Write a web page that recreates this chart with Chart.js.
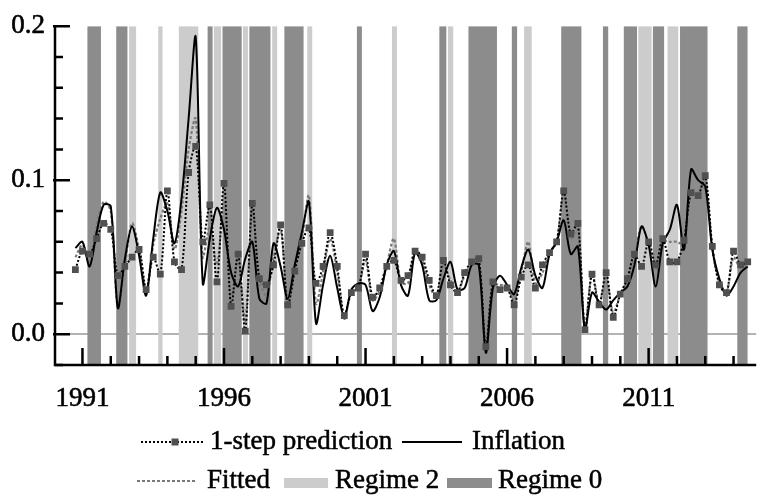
<!DOCTYPE html>
<html><head><meta charset="utf-8">
<script src="https://cdn.jsdelivr.net/npm/chart.js@4/dist/chart.umd.min.js"></script>
<style>
html,body{margin:0;padding:0;background:#fff;}
#wrap{position:relative;width:761px;height:502px;overflow:hidden;font-family:"Liberation Serif","LiberationSerif","Times New Roman",Times,"DejaVu Serif","Noto Serif",serif;}
#c{position:absolute;left:0;top:0;}
.lg{position:absolute;font-size:27px;line-height:27px;color:#000;white-space:nowrap;-webkit-text-stroke:0.5px #000;}
svg.s{position:absolute;overflow:visible;}
</style></head><body>
<div id="wrap">
<canvas id="c" width="761" height="502"></canvas>
<svg class="s" style="left:0;top:0" width="761" height="502">
  <line x1="141" y1="442" x2="203" y2="442" stroke="#000" stroke-width="2" stroke-dasharray="2,2"/>
  <rect x="171.5" y="438.5" width="7" height="7" fill="#505050"/>
  <line x1="402" y1="442" x2="462" y2="442" stroke="#000" stroke-width="2"/>
  <line x1="137" y1="481" x2="197" y2="481" stroke="#7a7a7a" stroke-width="2" stroke-dasharray="3,2"/>
  <rect x="284" y="478" width="44" height="10" fill="#cccccc"/>
  <rect x="447" y="478" width="45" height="10" fill="#8c8c8c"/>
</svg>
<div class="lg" style="left:210px;top:427px">1-step prediction</div>
<div class="lg" style="left:472px;top:427px">Inflation</div>
<div class="lg" style="left:207px;top:466px">Fitted</div>
<div class="lg" style="left:335px;top:466px">Regime 2</div>
<div class="lg" style="left:498px;top:466px">Regime 0</div>
</div>
<script>
// ---- data (quarterly, first observation 1990Q4) ----
const firstYear = 1990, firstQuarter = 4;
const inflation = [0.056,0.060,0.044,0.066,0.084,0.083,0.017,0.049,0.070,0.051,
  0.025,0.062,0.092,0.080,0.059,0.088,0.140,0.193,0.033,0.062,
  0.082,0.068,0.040,0.031,0.049,0.060,0.023,0.020,0.059,0.044,
  0.023,0.045,0.066,0.086,0.007,0.032,0.051,0.030,0.011,0.029,
  0.033,0.032,0.015,0.024,0.045,0.054,0.032,0.025,0.053,0.045,
  0.022,0.022,0.036,0.047,0.029,0.030,0.045,0.045,-0.012,0.030,
  0.038,0.032,0.026,0.043,0.055,0.038,0.030,0.052,0.060,0.074,
  0.052,0.057,0.003,0.027,0.021,0.016,0.022,0.027,0.031,0.045,
  0.070,0.058,0.031,0.059,0.068,0.084,0.055,0.107,0.100,0.096,
  0.055,0.036,0.025,0.031,0.040,0.044];
const prediction = [0.042,0.054,0.052,0.062,0.072,0.068,0.038,0.044,0.050,0.055,
  0.029,0.050,0.039,0.093,0.047,0.042,0.105,0.122,0.060,0.084,
  0.034,0.098,0.018,0.052,0.002,0.085,0.036,0.032,0.045,0.071,
  0.019,0.041,0.059,0.069,0.033,0.044,0.066,0.044,0.012,0.027,
  0.030,0.052,0.024,0.030,0.044,0.048,0.035,0.038,0.054,0.050,
  0.035,0.025,0.048,0.032,0.027,0.040,0.047,0.049,-0.008,0.034,
  0.029,0.030,0.019,0.037,0.045,0.030,0.045,0.053,0.060,0.093,
  0.065,0.072,0.003,0.039,0.019,0.040,0.011,0.026,0.036,0.052,
  0.044,0.060,0.045,0.062,0.047,0.047,0.061,0.092,0.090,0.103,
  0.057,0.032,0.027,0.054,0.045,0.047];
const fitted = [0.050,0.058,0.046,0.070,0.086,0.080,0.017,0.045,0.072,0.055,
  0.028,0.058,0.075,0.085,0.055,0.080,0.120,0.140,0.050,0.070,
  0.045,0.085,0.025,0.050,0.008,0.080,0.035,0.025,0.050,0.068,
  0.020,0.042,0.062,0.090,0.020,0.040,0.062,0.040,0.010,0.028,
  0.031,0.048,0.022,0.028,0.045,0.062,0.034,0.033,0.055,0.048,
  0.032,0.024,0.045,0.035,0.028,0.038,0.046,0.048,-0.010,0.032,
  0.032,0.031,0.022,0.040,0.060,0.033,0.040,0.053,0.060,0.090,
  0.062,0.068,0.004,0.040,0.020,0.035,0.014,0.026,0.035,0.050,
  0.070,0.058,0.042,0.060,0.060,0.060,0.058,0.092,0.092,0.100,
  0.056,0.033,0.027,0.050,0.043,0.046];
// regime periods (start / end, in years)
const regime0Start = [1991.175,1992.193,1995.421,1995.947,1996.895,1998.133,2000.695,2003.607,2004.635,2006.168,2007.912,2009.386,2010.123,2011.151,2012.109,2014.133];
const regime0End   = [1991.653,1992.589,1995.596,1996.625,1997.642,1998.811,2000.870,2003.853,2005.642,2006.354,2008.625,2009.572,2010.589,2011.547,2013.081,2014.495];
const regime2Start = [1992.649,1993.677,1994.404,1995.642,1996.670,1997.702,1998.940,2001.933,2003.912,2006.600,2010.635,2011.667];
const regime2End   = [1992.895,1993.828,1995.091,1995.898,1996.846,1997.877,1999.116,2002.109,2004.098,2006.870,2011.105,2012.046];
const xTickYears = [1991,1996,2001,2006,2011];
const yTickValues = [0.0,0.1,0.2];

const periods = inflation.map((_, i) => firstYear + (firstQuarter - 1 + i) / 4);
const pts = arr => arr.map((v, i) => ({x: periods[i], y: v}));
const FONT = {family: '"Liberation Serif", "LiberationSerif", "Times New Roman", Times, "DejaVu Serif", "Noto Serif", serif', size: 27};

const decor = {
  id: 'decor',
  beforeDatasetsDraw(chart) {
    const {ctx, chartArea: a, scales: {x}} = chart;
    ctx.save();
    ctx.beginPath(); ctx.rect(a.left, a.top, a.right - a.left, a.bottom - a.top); ctx.clip();
    const band = (s, e, col) => {
      ctx.fillStyle = col;
      s.forEach((v, i) => {
        const x0 = x.getPixelForValue(v), x1 = x.getPixelForValue(e[i]);
        ctx.fillRect(x0, a.top, x1 - x0, a.bottom - a.top);
      });
    };
    band(regime2Start, regime2End, '#cccccc');
    band(regime0Start, regime0End, '#8c8c8c');
    ctx.restore();
  },
  afterDatasetsDraw(chart) {
    const {ctx, chartArea: a, scales: {x, y}} = chart;
    ctx.save();
    ctx.strokeStyle = '#000';
    ctx.lineWidth = 2.5;
    ctx.beginPath();
    ctx.moveTo(a.left, a.top); ctx.lineTo(a.left, a.bottom + 1.25);
    ctx.moveTo(a.left - 1.25, a.bottom); ctx.lineTo(a.right, a.bottom);
    ctx.stroke();
    ctx.beginPath();
    for (let k = -1; k <= 10; k++) {
      const v = k * 0.02, py = y.getPixelForValue(v);
      const major = yTickValues.some(t => Math.abs(t - v) < 1e-9);
      ctx.moveTo(major ? a.left - 2 : a.left, py);
      ctx.lineTo(a.left + (major ? 15 : 8), py);
    }
    for (let yr = 1991; yr <= 2014; yr++) {
      const px = x.getPixelForValue(yr);
      const major = xTickYears.includes(yr);
      ctx.moveTo(px, a.bottom);
      ctx.lineTo(px, a.bottom - (major ? 17 : 9));
    }
    ctx.stroke();
    ctx.restore();
  }
};

new Chart(document.getElementById('c'), {
  type: 'line',
  data: {
    datasets: [
      {label: '1-step prediction', data: pts(prediction), borderColor: '#000', borderWidth: 2,
       borderDash: [2, 2], pointStyle: 'rect', pointRadius: 4.8, pointBackgroundColor: '#505050',
       pointBorderWidth: 0, tension: 0.3},
      {label: 'Inflation', data: pts(inflation), borderColor: '#000', borderWidth: 2,
       pointRadius: 0, tension: 0.3},
      {label: 'Fitted', data: pts(fitted), borderColor: '#7a7a7a', borderWidth: 2.2,
       borderDash: [3, 2], pointRadius: 0, tension: 0.3}
    ]
  },
  options: {
    responsive: false,
    animation: false,
    events: [],
    layout: {padding: {top: 25, right: 0, bottom: 87, left: 0}},
    plugins: {legend: {display: false}, tooltip: {enabled: false}},
    scales: {
      x: {
        type: 'linear', position: 'bottom', min: 1990.03, max: 2014.8,
        grid: {display: false, drawTicks: false},
        border: {display: false},
        afterBuildTicks: s => { s.ticks = xTickYears.map(v => ({value: v})); },
        afterFit: s => { s.height = 50; },
        ticks: {font: FONT, color: '#000', padding: 18, maxRotation: 0, autoSkip: false,
                textStrokeColor: '#000', textStrokeWidth: 0.6,
                callback: v => String(v)}
      },
      y: {
        type: 'linear', min: -0.02, max: 0.2,
        grid: {drawTicks: false, lineWidth: 2,
               color: c => (c.tick && Math.abs(c.tick.value) < 1e-9) ? '#b3b3b3' : 'rgba(0,0,0,0)'},
        border: {display: false},
        afterBuildTicks: s => { s.ticks = yTickValues.map(v => ({value: v})); },
        afterFit: s => { s.width = 55; },
        ticks: {font: FONT, color: '#000', padding: 10,
                textStrokeColor: '#000', textStrokeWidth: 0.6,
                callback: v => v.toFixed(1)}
      }
    }
  },
  plugins: [decor]
});
</script>
</body></html>
